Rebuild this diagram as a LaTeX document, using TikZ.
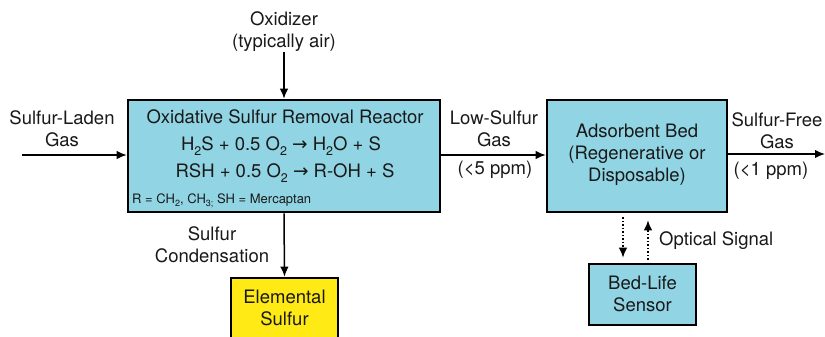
\documentclass[tikz,border=0pt]{standalone}
\usepackage{fontspec}
\setmainfont{TeX Gyre Heros}
\newfontfamily\arrowfont{DejaVu Sans}
\usetikzlibrary{arrows.meta}
\definecolor{boxblue}{RGB}{145,213,228}
\definecolor{boxyellow}{RGB}{255,234,22}
\definecolor{inkc}{RGB}{25,25,25}
\newcommand\bigsub[1]{\raisebox{-5pt}{\fontsize{12.5}{12.5}\selectfont #1}}
\newcommand\smsub[1]{\raisebox{-3.5pt}{\fontsize{9}{9}\selectfont #1}}
\begin{document}
\begin{tikzpicture}[x=1pt,y=-1pt,
  blk/.style={draw=black,line width=2.6pt,fill=boxblue,inner sep=0pt},
  lbl/.style={font=\fontsize{18.5}{22}\selectfont,align=center,inner sep=0pt,text=inkc},
  small/.style={font=\fontsize{13}{15}\selectfont,inner sep=0pt,text=inkc},
  flow/.style={-{Latex[length=10pt,width=8.5pt]},line width=1.5pt},
  sig/.style={flow,dotted}]
\useasboundingbox (0,0) rectangle (825,337);
\clip (0,0) rectangle (825,337);
% boxes
\node[blk,minimum width=312pt,minimum height=112pt] (reactor) at (284,156) {};
\node[blk,minimum width=180pt,minimum height=112pt] (adsorb) at (637,156) {};
\node[blk,minimum width=107pt,minimum height=61pt] (sensor) at (642.5,294.5) {};
\node[blk,fill=boxyellow,minimum width=107pt,minimum height=66pt] (sulfur) at (284.5,311) {};
% texts in boxes
\node[lbl] (rtitle) at (285,117) {Oxidative Sulfur Removal Reactor};
\node[lbl,anchor=base] (eq1) at (281,150) {H\bigsub{2}S + 0.5 O\bigsub{2} {\arrowfont →} H\bigsub{2}O + S};
\node[lbl,anchor=base] (eq2) at (285,177) {RSH + 0.5 O\bigsub{2} {\arrowfont →} R-OH + S};
\node[small,anchor=base west] (rnote) at (132,203) {R = CH\smsub{2}, CH\smsub{3;} SH = Mercaptan};
\node[lbl] (atext) at (637,155) {Adsorbent Bed\\(Regenerative or\\Disposable)};
\node[lbl] (stext) at (642.5,294) {Bed-Life\\Sensor};
\node[lbl] (etext) at (284.5,307.5) {Elemental\\Sulfur};
% outside labels
\node[lbl] (oxlbl) at (284,32) {Oxidizer\\(typically air)};
\node[lbl] (inlbl) at (62,129) {Sulfur-Laden\\Gas};
\node[lbl] (lowlbl) at (494,129) {Low-Sulfur\\Gas};
\node[lbl] (lowppm) at (495,170) {(<5 ppm)};
\node[lbl] (freelbl) at (777,131) {Sulfur-Free\\Gas};
\node[lbl] (freeppm) at (771,171) {(<1 ppm)};
\node[lbl] (condlbl) at (212,245) {Sulfur\\Condensation};
\node[lbl,anchor=west] (optlbl) at (659,241) {Optical Signal};
% connectors
\coordinate (ox) at (284,52);
\coordinate (inL) at (22,155);
\coordinate (outR) at (825,154);
\coordinate (dd) at (623,0);
\coordinate (du) at (648,0);
\draw[flow] (ox) -- (reactor.north);
\draw[flow] (inL) -- (inL -| reactor.west);
\draw[flow] (reactor.east |- inL) -- (adsorb.west |- inL);
\draw[flow] (adsorb.east |- outR) -- (outR);
\draw[flow] (reactor.south) -- (sulfur.north);
\draw[sig,shorten <=4pt,shorten >=5pt] (adsorb.south -| dd) -- (sensor.north -| dd);
\draw[sig,shorten <=3pt,shorten >=7pt] (sensor.north -| du) -- (adsorb.south -| du);
\end{tikzpicture}
\end{document}
